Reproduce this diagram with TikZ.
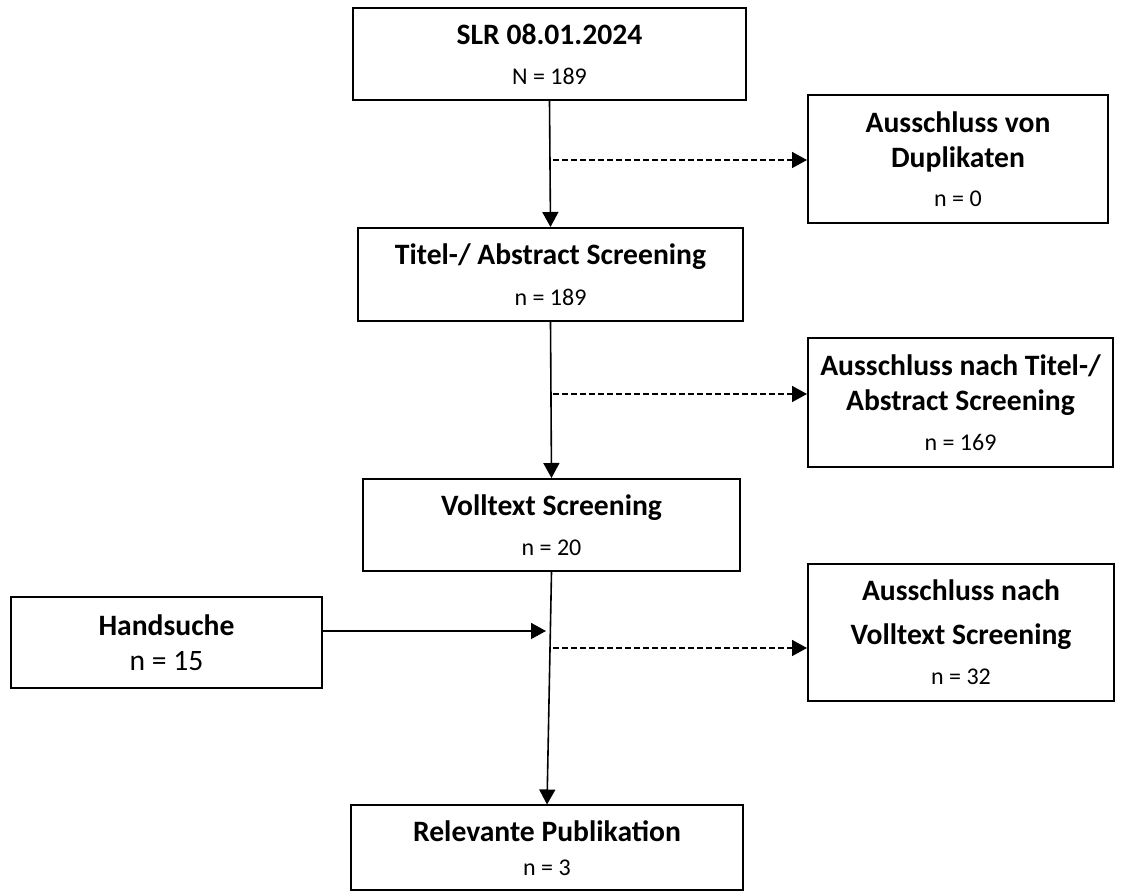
\documentclass[tikz,border=0pt]{standalone}
\usepackage{fontspec}
\setmainfont{Carlito}
\usetikzlibrary{arrows.meta}
\tikzset{
  box/.style={
    rectangle, draw=black, line width=1pt,
    align=center, inner sep=0pt,
    font=\fontsize{14.8}{17.5}\selectfont\bfseries,
  },
  flow/.style={
    line width=0.8pt,
    -{Triangle[length=7.5pt,width=8pt]},
  },
  excl/.style={
    flow, dash pattern=on 3pt off 1.5pt,
  },
}
\newcommand{\nval}[1]{{\mdseries\fontsize{12}{14}\selectfont #1}}

\begin{document}
\begin{tikzpicture}[x=0.5pt, y=-0.5pt]
  \useasboundingbox (0,0) rectangle (1126,892);
  % main column
  \node[box, minimum width=196.5pt, minimum height=46pt] (slr) at (549.5,54)
    {SLR 08.01.2024\\[2.5pt]\nval{N = 189}};
  \node[box, minimum width=192.5pt, minimum height=46.5pt] (tit) at (550.5,274.5)
    {Titel-/ Abstract Screening\\[3pt]\nval{n = 189}};
  \node[box, minimum width=188.5pt, minimum height=46pt] (vol) at (551.5,525)
    {Volltext Screening\\[2.5pt]\nval{n = 20}};
  \node[box, minimum width=196pt, minimum height=42.5pt] (rel) at (547,848)
    {Relevante Publikation\\[-0.5pt]\nval{n = 3}};
  % side boxes
  \node[box, minimum width=150pt, minimum height=64pt] (dup) at (958,159)
    {Ausschluss von\\Duplikaten\\[2pt]\nval{n = 0}};
  \node[box, minimum width=152.5pt, minimum height=64.5pt] (tau) at (960.5,402.5)
    {Ausschluss nach Titel-/\\Abstract Screening\\[2.5pt]\nval{n = 169}};
  \node[box, minimum width=153pt, minimum height=68.5pt] (vau) at (961,632.5)
    {Ausschluss nach\\[4.5pt]Volltext Screening\\[2.5pt]\nval{n = 32}};
  \node[box, minimum width=155.5pt, minimum height=45.5pt] (hand) at (166.5,642.5)
    {Handsuche\\{\mdseries n = 15}};
  % connectors
  \coordinate (d1) at (553,160);
  \coordinate (d2) at (553,394);
  \coordinate (j) at (546,631);
  \coordinate (d3) at (553,648);
  \draw[flow] (slr.south) -- (tit.north);
  \draw[excl] (d1) -- (d1 -| dup.west);
  \draw[flow] (tit.south) -- (vol.north);
  \draw[excl] (d2) -- (d2 -| tau.west);
  \draw[flow] (vol.south) -- (rel.north);
  \draw[flow] (hand.east |- j) -- (j);
  \draw[excl] (d3) -- (d3 -| vau.west);
\end{tikzpicture}
\end{document}
